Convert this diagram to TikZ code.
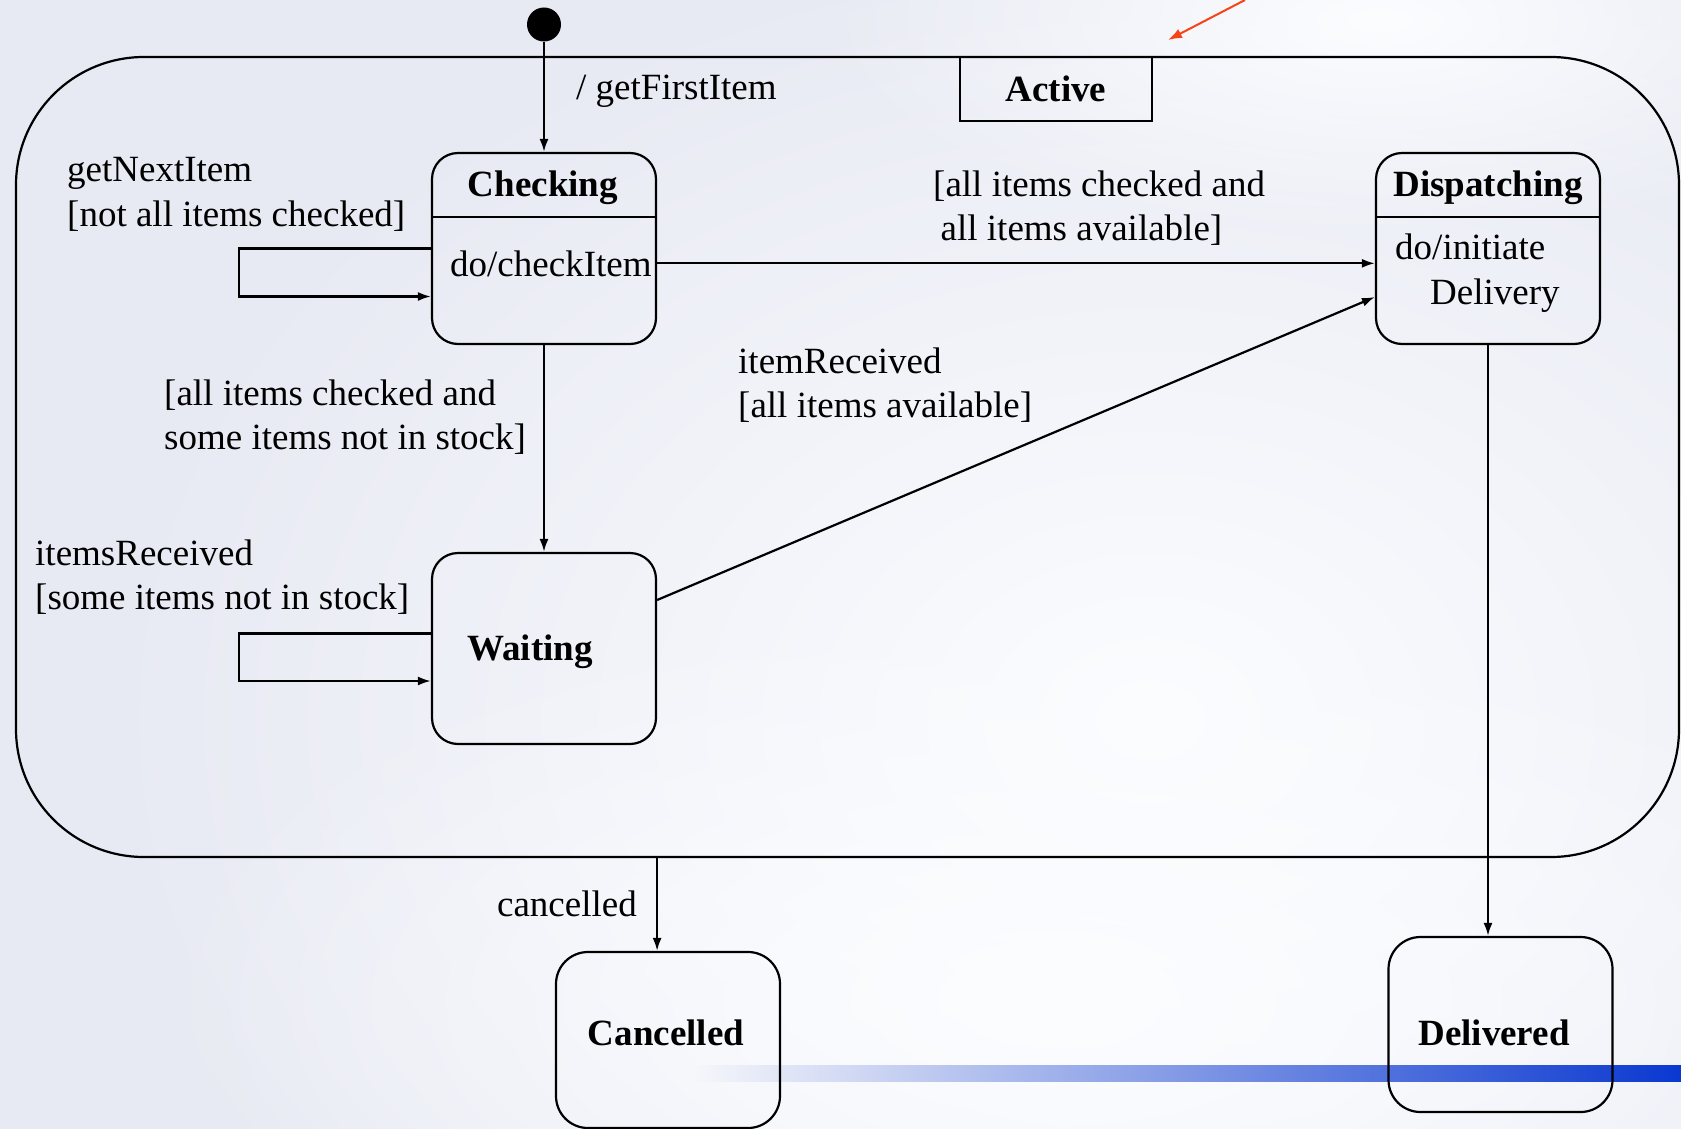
\documentclass[tikz,border=0pt]{standalone}
\usepackage{fontspec}
\setmainfont{Liberation Serif}
\usetikzlibrary{arrows.meta,calc,fadings}

\definecolor{bgbase}{RGB}{231,233,243}
\definecolor{bglight}{RGB}{252,253,255}
\definecolor{barblue}{RGB}{10,56,208}
\definecolor{pointer}{RGB}{246,68,22}

\tikzfading[name=softglow, inner color=transparent!0, outer color=transparent!100]

\newcommand{\lines}[1]{\begin{tabular}[t]{@{}l@{}}#1\end{tabular}}

\begin{document}
\begin{tikzpicture}[x=1pt,y=-1pt,
  every node/.style={font=\fontsize{37}{44.5}\selectfont, inner sep=0pt},
  title/.style={font=\fontsize{37}{44.5}\selectfont\bfseries, anchor=base},
  label/.style={anchor=base west},
  frame/.style={draw, line width=2.2pt},
  state/.style={frame, rounded corners=26pt, minimum width=224pt, minimum height=191pt},
  finalstate/.style={frame, rounded corners=32pt, minimum width=224pt, minimum height=176pt},
  arr/.style={line width=2.2pt, -{Latex[length=13pt,width=9pt]}},
  divider/.style={line width=2.2pt},
  glow/.style={fill=bglight, path fading=softglow}]

\useasboundingbox (0,0) rectangle (1681,1129);

% backdrop
\fill[bgbase] (0,0) rectangle (1681,1129);
\fill[glow] (1150,720) ellipse (1100 and 820);
\fill[glow] (1050,1000) ellipse (900 and 420);
\fill[glow] (1380,20) ellipse (560 and 220);
\shade[left color=bgbase!40!white, right color=barblue] (697,1065) rectangle (1681,1081);

% composite state
\node[frame, rounded corners=128pt, minimum width=1663pt, minimum height=800pt] (active) at (847.5,457) {};
\node[frame, minimum width=192pt, minimum height=64pt, font=\fontsize{37}{44.5}\selectfont\bfseries] (activetab) at (1056,89) {Active};

% states
\node[state] (checking) at (544,248.5) {};
\draw[divider] (checking.west |- 0,217) -- (checking.east |- 0,217);
\node[title] (checkingname) at (543,196) {Checking};
\node[label] (checkdo) at (450,276) {do/checkItem};

\node[state] (dispatching) at (1488,248.5) {};
\draw[divider] (dispatching.west |- 0,217) -- (dispatching.east |- 0,217);
\node[title] (dispatchingname) at (1488,196) {Dispatching};
\node[label] (dispatchdo) at (1395,259.5) {\lines{do/initiate\\\hspace*{35pt}Delivery}};

\node[state] (waiting) at (544,648.5) {};
\node[title] (waitingname) at (530,660) {Waiting};

\node[finalstate] (cancelled) at (668,1040) {};
\node[title] (cancelledname) at (666,1045) {Cancelled};

\node[finalstate, minimum height=175pt] (delivered) at (1500.5,1024.5) {};
\node[title] (deliveredname) at (1494,1045) {Delivered};

% initial pseudostate
\node[circle, fill=black, minimum size=34pt] (init) at (544,24.5) {};

% transitions
\draw[arr] (init) -- (checking);
\node[label] (lblfirst) at (576,100) {/ getFirstItem};

\draw[arr] (checking.west) -- ++(-192,0) -- ++(0,48) -- ($(checking.west)+(0,48)$);
\node[label] (lblnext) at (67,181.7) {\lines{getNextItem\\{[}not all items checked{]}}};

\draw[arr] (checking.east |- checkdo) -- (dispatching.west |- checkdo);
\node[label] (lblavail) at (933,196) {\lines{{[}all items checked and\\\hspace*{7.5pt}all items available{]}}};

\draw[arr] (checking) -- (waiting);
\node[label] (lblstock) at (164,405) {\lines{{[}all items checked and\\some items not in stock{]}}};

\draw[arr] ($(waiting.west)+(0,-15)$) -- ++(-192,0) -- ++(0,47.5) -- ($(waiting.west)+(0,32.5)$);
\node[label] (lblrecv) at (35,565) {\lines{itemsReceived\\{[}some items not in stock{]}}};

\draw[arr] ($(waiting.east)+(0,-48.5)$) -- ($(dispatching.west)+(0,48.5)$);
\node[label] (lblitem) at (738,373) {\lines{itemReceived\\{[}all items available{]}}};

\draw[arr] (dispatching.south) -- (dispatching.south |- delivered.north);

\draw[arr] (active.south -| waiting.east) -- (cancelled.north -| waiting.east);
\node[anchor=base east] (lblcancel) at (637,916) {cancelled};

% pointer arrow at the top edge
\coordinate (ptrfrom) at (1245,0);
\coordinate (ptrto) at (1168,40);
\draw[pointer, line width=2pt, -{Latex[length=14pt,width=10pt]}] (ptrfrom) -- (ptrto);

\end{tikzpicture}
\end{document}
